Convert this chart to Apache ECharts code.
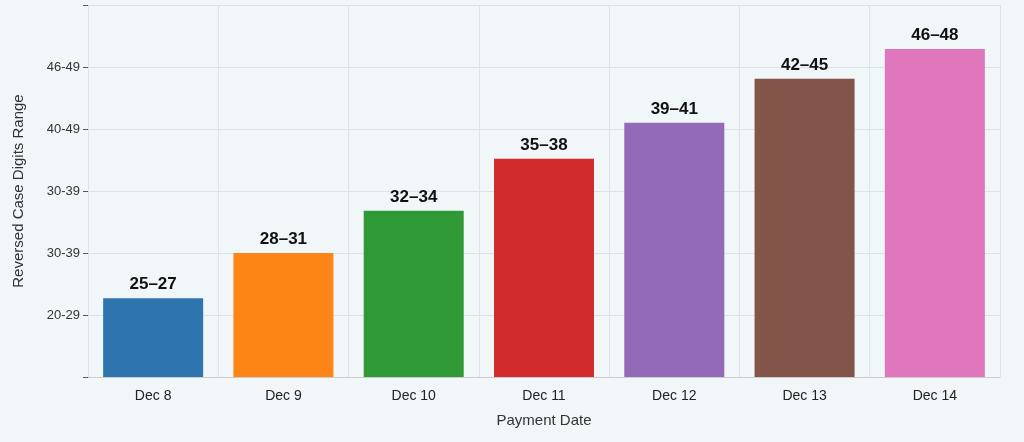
<!DOCTYPE html><html><head><meta charset="utf-8"><script src="https://cdn.jsdelivr.net/npm/echarts@6/dist/echarts.min.js"></script>
<style>html,body{margin:0;background:#f1f6f9}#c{width:1024px;height:442px}</style></head><body><div id="c"></div><script>
const categories=["Dec 8","Dec 9","Dec 10","Dec 11","Dec 12","Dec 13","Dec 14"];
const values=[1.27,2.0,2.68,3.52,4.1,4.81,5.29];
const barLabels=["25–27","28–31","32–34","35–38","39–41","42–45","46–48"];
const colors=["#2e75b0","#fd8515","#2f9a35","#d12b2b","#936ab8","#835548","#e077bd"];
const yTickLabels=["","20-29","30-39","30-39","40-49","46-49",""];
const chart=echarts.init(document.getElementById('c'));
chart.setOption({backgroundColor:'#f1f6f9',
grid:{left:88,right:24,top:5,bottom:65},
xAxis:[{type:'category',data:categories,name:'Payment Date',nameLocation:'middle',nameGap:36,nameTextStyle:{fontSize:15,color:'#333'},
axisLabel:{fontSize:14,color:'#222',margin:12},axisTick:{show:false},axisLine:{lineStyle:{color:'#ccc'}}},
{type:'value',min:0,max:7,interval:1,position:'bottom',show:true,axisLabel:{show:false},axisLine:{show:false},axisTick:{show:false},splitLine:{show:true,lineStyle:{color:'#dde2e8'}}}],
yAxis:{type:'value',min:0,max:6,interval:1,name:'Reversed Case Digits Range',nameLocation:'middle',nameGap:62,nameTextStyle:{fontSize:15,color:'#333'},
axisLabel:{fontSize:13,color:'#333',formatter:v=>yTickLabels[v]||''},splitLine:{lineStyle:{color:'#dde2e8'}},axisLine:{show:false}},
series:[{type:'bar',xAxisIndex:0,barWidth:100,data:values.map((v,i)=>({value:v,itemStyle:{color:colors[i]}})),
label:{show:true,position:'top',fontSize:17,fontWeight:'bold',color:'#111',formatter:p=>barLabels[p.dataIndex]}}]});
</script></body></html>
